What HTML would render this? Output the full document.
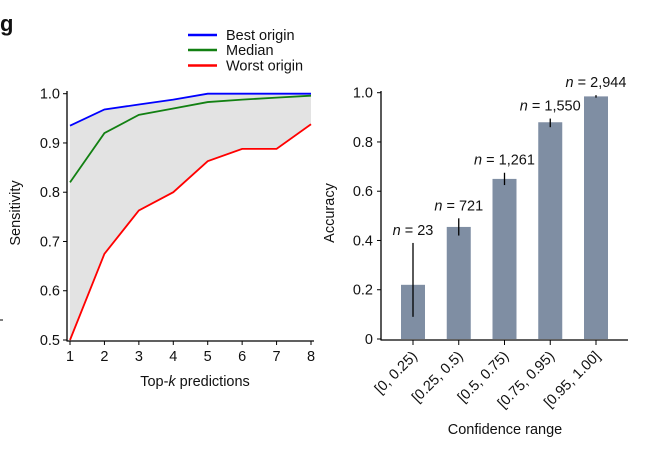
<!DOCTYPE html>
<html><head><meta charset="utf-8"><style>
body{margin:0;background:#fff;font-family:"Liberation Sans",Arial,sans-serif;}
svg text{font-family:"Liberation Sans",Arial,sans-serif;fill:#111;}
</style></head><body>
<svg width="648" height="451" viewBox="0 0 648 451">
<text x="0" y="31" font-size="22" font-weight="bold">g</text>
<line x1="0" y1="320" x2="3" y2="320" stroke="#000" stroke-width="1"/>
<g id="left"></g>
<g id="right"></g>
</svg>
<script>
const ks=[1,2,3,4,5,6,7,8];
const best=[0.935,0.968,0.978,0.988,1.0,1.0,1.0,1.0];
const median=[0.82,0.92,0.957,0.97,0.983,0.988,0.992,0.996];
const worst=[0.5,0.675,0.763,0.8,0.863,0.888,0.888,0.938];
const sensTicks=[0.5,0.6,0.7,0.8,0.9,1.0];
const cats=["[0, 0.25)","[0.25, 0.5)","[0.5, 0.75)","[0.75, 0.95)","[0.95, 1.00]"];
const acc=[0.22,0.455,0.65,0.88,0.985];
const errLo=[0.09,0.42,0.625,0.86,0.98];
const errHi=[0.39,0.49,0.675,0.895,0.99];
const counts=["23","721","1,261","1,550","2,944"];
const accTicks=[0,0.2,0.4,0.6,0.8,1.0];
const NS="http://www.w3.org/2000/svg";
const FS=14.5;
function mk(p,t,a,txt){const e=document.createElementNS(NS,t);for(const k in a)e.setAttribute(k,a[k]);if(txt!==undefined)e.textContent=txt;p.appendChild(e);return e;}
// left
const L=document.getElementById('left');
const lx=k=>70+(k-1)*(311-70)/7, ly=v=>340-(v-0.5)*(340-93.7)/0.5;
let poly=ks.map((k,i)=>lx(k)+","+ly(best[i])).concat(ks.slice().reverse().map((k,j)=>lx(k)+","+ly(worst[7-j]))).join(" ");
let area=mk(L,'polygon',{points:poly,fill:'#e3e3e3'});


[[best,'#0000ff','best-origin-line'],[median,'#128012','median-line'],[worst,'#ff0000','worst-origin-line']].forEach(([s,c,n])=>{
 const p=mk(L,'polyline',{points:ks.map((k,i)=>lx(k)+","+ly(s[i])).join(" "),fill:'none',stroke:c,'stroke-width':1.8});
 
 
});
mk(L,'line',{x1:67,y1:91,x2:67,y2:341,stroke:'#000','stroke-width':1.3});
mk(L,'line',{x1:66.5,y1:341,x2:314,y2:341,stroke:'#000','stroke-width':1.3});
sensTicks.forEach(t=>{mk(L,'line',{x1:63,y1:ly(t),x2:67,y2:ly(t),stroke:'#000'});
 const tt=mk(L,'text',{x:60,y:ly(t)+5,'font-size':FS,'text-anchor':'end'},t.toFixed(1));
 
 });
ks.forEach(k=>{mk(L,'line',{x1:lx(k),y1:341,x2:lx(k),y2:345,stroke:'#000'});
 const tt=mk(L,'text',{x:lx(k),y:361,'font-size':FS,'text-anchor':'middle'},k);
 
 });
let xt=mk(L,'text',{x:195,y:386,'font-size':FS,'text-anchor':'middle'});
xt.innerHTML='Top-<tspan font-style="italic">k</tspan> predictions';


let yt=mk(L,'text',{x:0,y:0,'font-size':FS,'text-anchor':'middle',transform:'translate(20,213) rotate(-90)'},'Sensitivity');


[['Best origin','#0000ff',35],['Median','#128012',50],['Worst origin','#ff0000',65.5]].forEach(([n,c,y])=>{
 const g=mk(L,'g',{});
 
 
 mk(g,'line',{x1:188,y1:y,x2:217,y2:y,stroke:c,'stroke-width':2.5});
 mk(g,'text',{x:226,y:y+5,'font-size':FS},n);
});
// right
const R=document.getElementById('right');
const bx=i=>413+i*45.75, by=v=>339-v*(339-92.7);
mk(R,'line',{x1:381,y1:91,x2:381,y2:340,stroke:'#000','stroke-width':1.3});
mk(R,'line',{x1:380.5,y1:340,x2:628,y2:340,stroke:'#000','stroke-width':1.3});
accTicks.forEach(t=>{mk(R,'line',{x1:377,y1:by(t),x2:381,y2:by(t),stroke:'#000'});
 const tt=mk(R,'text',{x:373,y:by(t)+5,'font-size':FS,'text-anchor':'end'},t===0?'0':t.toFixed(1));
 
 });
cats.forEach((c,i)=>{
 const b=mk(R,'rect',{x:bx(i)-12,y:by(acc[i]),width:24,height:by(0)-by(acc[i]),fill:'#7f8ea3'});
 
 
 mk(R,'line',{x1:bx(i),y1:by(errLo[i]),x2:bx(i),y2:by(errHi[i]),stroke:'#000','stroke-width':1.3});
 const lb=mk(R,'text',{x:bx(i),y:by(errHi[i])-8,'font-size':FS,'text-anchor':'middle'});
 lb.innerHTML='<tspan font-style="italic">n</tspan> = '+counts[i];
 
 
 mk(R,'line',{x1:bx(i),y1:340,x2:bx(i),y2:345,stroke:'#000'});
 const ct=mk(R,'text',{x:0,y:0,'font-size':FS,'text-anchor':'end',transform:`translate(${bx(i)+5},${357}) rotate(-45)`},c);
 
 
});
let xt2=mk(R,'text',{x:505,y:434,'font-size':FS,'text-anchor':'middle'},'Confidence range');


let yt2=mk(R,'text',{x:0,y:0,'font-size':FS,'text-anchor':'middle',transform:'translate(334,213) rotate(-90)'},'Accuracy');


</script>
</body></html>
